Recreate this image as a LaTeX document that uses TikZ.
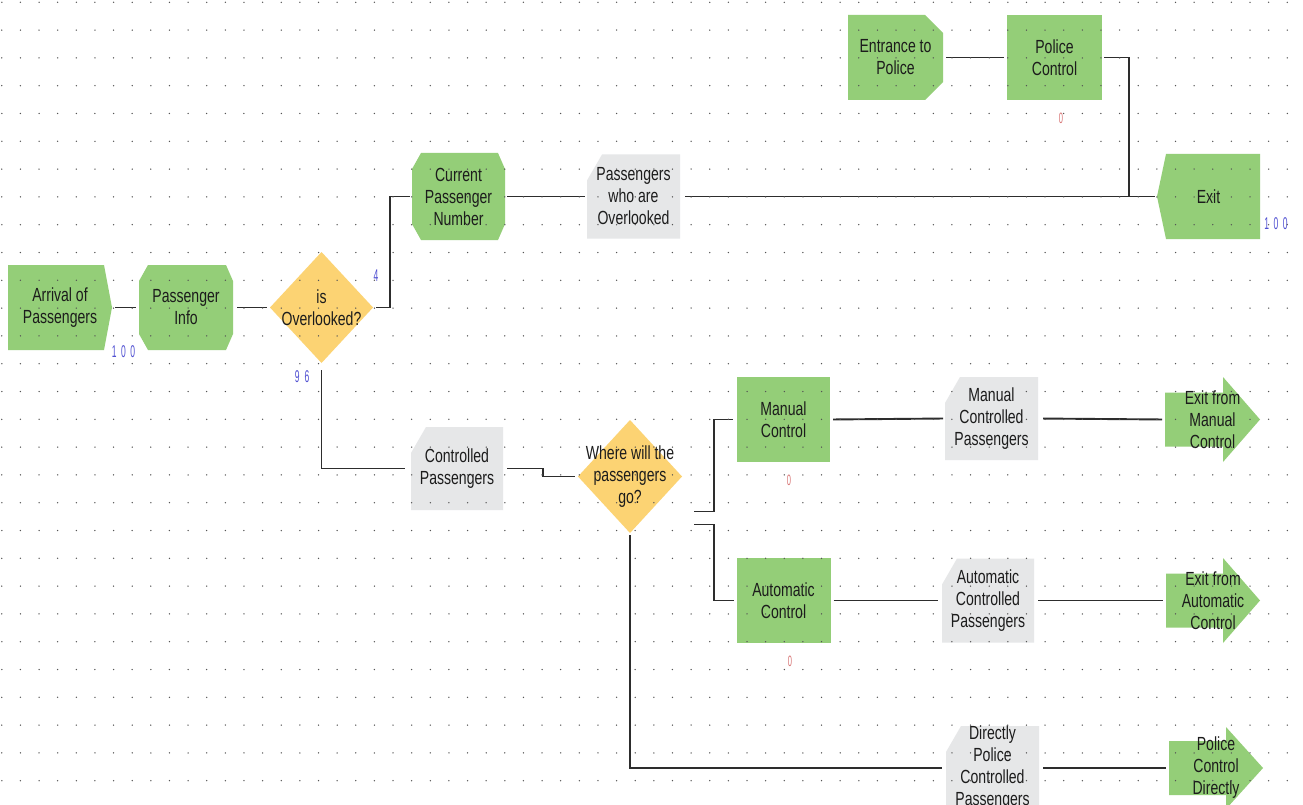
\documentclass[tikz,border=0pt]{standalone}
\usepackage{fontspec}
\setmainfont[FakeStretch=0.74]{Liberation Sans}
\newfontfamily\countfont[FakeStretch=0.5]{Liberation Sans}
\usetikzlibrary{calc}

\definecolor{epcgreen}{RGB}{148,206,120}
\definecolor{epcgrey}{RGB}{230,231,232}
\definecolor{epcgold}{RGB}{252,211,115}
\definecolor{wirecol}{RGB}{45,45,45}
\definecolor{dotcol}{RGB}{85,85,85}
\definecolor{countblue}{RGB}{80,80,210}
\definecolor{countred}{RGB}{205,80,80}
\definecolor{inkcol}{RGB}{28,28,28}

\begin{document}
\begin{tikzpicture}[x=1pt,y=-1pt,
  elem/.style={rectangle, inner sep=0pt, outer sep=0pt, align=center,
    text=inkcol, font=\fontsize{19}{22}\selectfont},
  % plain green function box
  funcbox/.style={elem, fill=epcgreen},
  % green box with all four corners cut
  octbox/.style={elem, path picture={\fill[epcgreen]
    ($(path picture bounding box.north west)+(9,0)$) --
    ($(path picture bounding box.north east)+(-7,0)$) --
    ($(path picture bounding box.north east)+(0,16)$) --
    ($(path picture bounding box.south east)+(0,-16)$) --
    ($(path picture bounding box.south east)+(-7,0)$) --
    ($(path picture bounding box.south west)+(9,0)$) --
    ($(path picture bounding box.south west)+(0,-16)$) --
    ($(path picture bounding box.north west)+(0,16)$) -- cycle;}},
  % green box with a shallow point on the right
  startbox/.style={elem, path picture={\fill[epcgreen]
    (path picture bounding box.north west) --
    ($(path picture bounding box.north east)+(-8,0)$) --
    (path picture bounding box.east) --
    ($(path picture bounding box.south east)+(-8,0)$) --
    (path picture bounding box.south west) -- cycle;}},
  % green box with a shallow point on the left
  endbox/.style={elem, path picture={\fill[epcgreen]
    ($(path picture bounding box.north west)+(9,0)$) --
    (path picture bounding box.north east) --
    (path picture bounding box.south east) --
    ($(path picture bounding box.south west)+(9,0)$) --
    (path picture bounding box.west) -- cycle;}},
  % green box with the right corners cut
  entrybox/.style={elem, path picture={\fill[epcgreen]
    (path picture bounding box.north west) --
    ($(path picture bounding box.north east)+(-18,0)$) --
    ($(path picture bounding box.north east)+(0,18)$) --
    ($(path picture bounding box.south east)+(0,-18)$) --
    ($(path picture bounding box.south east)+(-18,0)$) --
    (path picture bounding box.south west) -- cycle;}},
  % grey event box with the top left corner cut
  databox/.style={elem, path picture={\fill[epcgrey]
    ($(path picture bounding box.north west)+(15,0)$) --
    (path picture bounding box.north east) --
    (path picture bounding box.south east) --
    (path picture bounding box.south west) --
    ($(path picture bounding box.north west)+(0,26)$) -- cycle;}},
  % yellow decision diamond
  decision/.style={elem, path picture={\fill[epcgold]
    (path picture bounding box.north) --
    (path picture bounding box.east) --
    (path picture bounding box.south) --
    (path picture bounding box.west) -- cycle;}},
  % green block arrow for the end points
  outarrow/.style={elem, path picture={\fill[epcgreen]
    ($(path picture bounding box.west)+(0,-27)$) --
    ($(path picture bounding box.east)+(-37,-27)$) --
    ($(path picture bounding box.north east)+(-37,0)$) --
    (path picture bounding box.east) --
    ($(path picture bounding box.south east)+(-37,0)$) --
    ($(path picture bounding box.east)+(-37,27)$) --
    ($(path picture bounding box.west)+(0,27)$) -- cycle;}},
  wire/.style={draw=wirecol, line width=1.9pt},
  countb/.style={inner sep=0pt, text=countblue, font=\countfont\fontsize{17}{17}\selectfont},
  countr/.style={inner sep=0pt, text=countred!80, font=\countfont\fontsize{15}{15}\selectfont}
]
\useasboundingbox (0,0) rectangle (1303,805);
\clip (0,0) rectangle (1303,805);
\fill[white] (0,0) rectangle (1303,805);

% ---- elements ----
\node[startbox, minimum width=104, minimum height=85] (arr) at (60,307.5) {Arrival of\\Passengers};
\node[octbox, minimum width=94, minimum height=85] (info) at (186,307.5) {Passenger\\Info};
\node[decision, minimum width=103, minimum height=111] (ov) at (321.5,307.5) {is\\Overlooked?};
\node[octbox, minimum width=93, minimum height=87] (cur) at (458.5,196.5) {Current\\Passenger\\Number};
\node[databox, minimum width=93, minimum height=84] (povl) at (633.5,196.5) {Passengers\\who are\\Overlooked};
\node[entrybox, minimum width=95, minimum height=85] (ent) at (895.5,57.5) {Entrance to\\Police};
\node[funcbox, minimum width=95, minimum height=85] (pc) at (1054.5,57.5) {Police\\Control};
\node[endbox, minimum width=103, minimum height=85] (exit) at (1208.5,196.5) {Exit};

\node[databox, minimum width=92, minimum height=83] (ctrl) at (457,468.5) {Controlled\\Passengers};
\node[decision, minimum width=104, minimum height=113] (where) at (630,476.5) {Where will the\\passengers\\go?};

\node[funcbox, minimum width=93, minimum height=85] (man) at (783.5,419.5) {Manual\\Control};
\node[databox, minimum width=93, minimum height=83] (mcp) at (991.5,418.5) {Manual\\Controlled\\Passengers};
\node[outarrow, minimum width=95, minimum height=85] (exman) at (1212.5,419.5) {Exit from\\Manual\\Control};

\node[funcbox, minimum width=94, minimum height=85] (auto) at (783.5,600.5) {Automatic\\Control};
\node[databox, minimum width=92, minimum height=84] (acp) at (988,600.5) {Automatic\\Controlled\\Passengers};
\node[outarrow, minimum width=94, minimum height=85] (exauto) at (1213,600.5) {Exit from\\Automatic\\Control};

\node[databox, minimum width=93, minimum height=84] (dpcp) at (992.5,768) {Directly\\Police\\Controlled\\Passengers};
\node[outarrow, minimum width=94, minimum height=82] (pcd) at (1216,768) {Police\\Control\\Directly};

% ---- counters ----
\node[countb] (c1) at (123.5,352) {1\hspace{4.5pt}0\hspace{4.5pt}0};
\node[countb] (c2) at (376,276) {4};
\node[countb] (c3) at (302,377) {9\hspace{5pt}6};
\node[countb] (c4) at (1276,224) {1\hspace{4.5pt}0\hspace{4.5pt}0};
\node[countr] (c5) at (1061,118) {0};
\node[countr] (c6) at (789,480) {0};
\node[countr] (c7) at (790,661) {0};

% ---- connectors ----
\draw[wire, shorten <=3pt, shorten >=3pt] (arr.east) -- (info.west);
\draw[wire, shorten <=4pt, shorten >=3pt] (info.east) -- (ov.west);
\draw[wire, shorten <=3pt, shorten >=2pt] (ov.east) -- ++(17,0) |- (cur.west);
\draw[wire, shorten <=2pt, shorten >=2pt] (cur.east) -- (povl.west);
\draw[wire, shorten <=5pt, shorten >=2pt] (povl.east) -- (exit.west);
\draw[wire, shorten <=3pt, shorten >=3pt] (ent.east) -- (pc.west);
\draw[wire, shorten <=2pt, shorten >=2pt] (pc.east) -- ++(27,0) |- (exit.west);

\draw[wire, shorten <=7pt, shorten >=6pt] (ov.south) |- (ctrl.west);
\draw[wire, shorten <=4pt, shorten >=3pt] (ctrl.east) -- ++(40,0) |- (where.west);

\coordinate (w1) at ($(where.east)+(12,35)$);
\coordinate (w2) at ($(where.east)+(12,48)$);
\draw[wire, shorten >=4pt] (w1) -- ++(20,0) |- (man.west);
\draw[wire, shorten >=3pt] (w2) -- ++(20,0) |- (auto.west);
\draw[wire, shorten <=2pt, shorten >=4pt] (where.south) |- (dpcp.west);

\draw[wire, shorten <=3pt, shorten >=2pt] (man.east) -- (mcp.west);
\draw[wire, shorten <=5pt, shorten >=3pt] (mcp.east) -- (exman.west);
\draw[wire, shorten <=3pt, shorten >=4pt] (auto.east) -- (acp.west);
\draw[wire, shorten <=4pt, shorten >=3pt] (acp.east) -- (exauto.west);
\draw[wire, shorten <=4pt, shorten >=3pt] (dpcp.east) -- (pcd.west);

% ---- dotted drawing grid ----
\foreach \i in {0,...,69}{
  \foreach \j in {0,...,28}{
    \fill[dotcol] (1.8+18.63*\i, 2.3+27.8*\j) circle (0.75);
  }
}
\end{tikzpicture}
\end{document}
